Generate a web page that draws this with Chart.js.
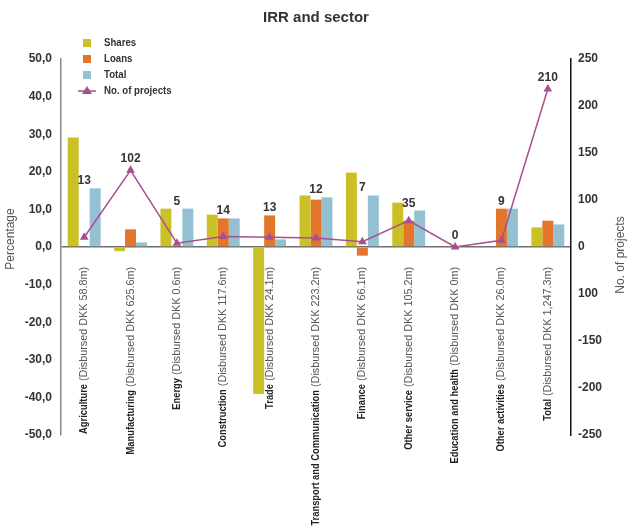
<!DOCTYPE html>
<html>
<head>
<meta charset="utf-8">
<title>IRR and sector</title>
<script src="https://cdn.jsdelivr.net/npm/chart.js@4.4.1/dist/chart.umd.min.js"></script>
<style>
    html, body { margin: 0; padding: 0; background: #fff; }
    #wrap { position: relative; width: 634px; height: 528px; }
</style>
</head>
<body>
<div id="wrap"><canvas id="irr-chart" width="634" height="528"></canvas></div>
<script>
// セクター名と投資額
const sectors = ['Agriculture', 'Manufacturing', 'Energy', 'Construction', 'Trade',
    'Transport and Communication', 'Finance', 'Other service', 'Education and health',
    'Other activities', 'Total'];
const disbursed = ['(Disbursed DKK 58.8m)', '(Disbursed DKK 625.6m)', '(Disbursed DKK 0.6m)',
    '(Disbursed DKK 117.6m)', '(Disbursed DKK 24.1m)', '(Disbursed DKK 223.2m)',
    '(Disbursed DKK 66.1m)', '(Disbursed DKK 105.2m)', '(Disbursed DKK 0m)',
    '(Disbursed DKK 26.0m)', '(Disbursed DKK 1,247.3m)'];

// IRR (%)
const shares = [29.1, -1.1, 10.2, 8.6, -39.1, 13.7, 19.8, 11.8, 0, 0, 5.2];
const loans = [0, 4.7, 0, 7.6, 8.4, 12.6, -2.3, 7.0, 0, 10.2, 7.0];
const total = [15.6, 1.2, 10.2, 7.6, 2.0, 13.2, 13.7, 9.7, 0, 10.2, 6.0];

// プロジェクト数
const projects = [13, 102, 5, 14, 13, 12, 7, 35, 0, 9, 210];

// 右軸の目盛りラベル（下から上）
const rightTickValues = [-250, -187.5, -125, -62.5, 0, 62.5, 125, 187.5, 250];
const rightTickLabels = ['-250', '-200', '-150', '100', '0', '100', '150', '200', '250'];

const COLORS = {
    shares: '#cbc026',
    loans: '#e4762b',
    total: '#93c1d1',
    line: '#a6508f',
    text: '#333333'
};

// 横方向に詰めた文字を描く
function condensedText(ctx, text, x, y, squeeze) {
    ctx.save();
    ctx.translate(x, y);
    ctx.scale(squeeze, 1);
    ctx.fillText(text, 0, 0);
    ctx.restore();
}

// タイトル・凡例・軸タイトル・X軸ラベル・数値ラベルを描画
const decorPlugin = {
    id: 'decor',
    afterDraw(chart) {
        const ctx = chart.ctx;
        const x = chart.scales.x;
        ctx.save();

        // タイトル
        ctx.fillStyle = COLORS.text;
        ctx.font = 'bold 15px "Liberation Sans", Arial, sans-serif';
        ctx.textAlign = 'center';
        ctx.textBaseline = 'middle';
        ctx.fillText('IRR and sector', 316, 18);

        // 凡例
        const legendItems = [
            { label: 'Shares', color: COLORS.shares },
            { label: 'Loans', color: COLORS.loans },
            { label: 'Total', color: COLORS.total },
            { label: 'No. of projects', color: COLORS.line, line: true }
        ];
        ctx.font = 'bold 11.5px "Liberation Sans", Arial, sans-serif';
        ctx.textAlign = 'left';
        legendItems.forEach((item, i) => {
            const ly = 43 + i * 16;
            if (item.line) {
                ctx.strokeStyle = item.color;
                ctx.lineWidth = 1.5;
                ctx.beginPath();
                ctx.moveTo(78, ly);
                ctx.lineTo(96, ly);
                ctx.stroke();
                ctx.fillStyle = item.color;
                ctx.beginPath();
                ctx.moveTo(87, ly - 5);
                ctx.lineTo(92, ly + 3);
                ctx.lineTo(82, ly + 3);
                ctx.closePath();
                ctx.fill();
            } else {
                ctx.fillStyle = item.color;
                ctx.fillRect(83, ly - 4, 8, 8);
            }
            ctx.fillStyle = COLORS.text;
            condensedText(ctx, item.label, 104, ly, 0.84);
        });

        // 軸タイトル
        ctx.fillStyle = '#555';
        ctx.font = '12px "Liberation Sans", Arial, sans-serif';
        ctx.textAlign = 'center';
        ctx.save();
        ctx.translate(11, 239);
        ctx.rotate(-Math.PI / 2);
        ctx.fillText('Percentage', 0, 0);
        ctx.restore();
        ctx.save();
        ctx.translate(621, 255);
        ctx.rotate(-Math.PI / 2);
        ctx.fillText('No. of projects', 0, 0);
        ctx.restore();

        // X軸ラベル（太字のセクター名＋通常の金額）
        const boldFont = 'bold 11px "Liberation Sans", Arial, sans-serif';
        const normFont = '10.8px "Liberation Sans", Arial, sans-serif';
        const zeroY = chart.scales.y.getPixelForValue(0);
        sectors.forEach((name, i) => {
            const cx = x.getPixelForValue(i);
            ctx.save();
            ctx.translate(cx, zeroY + 20);
            ctx.rotate(-Math.PI / 2);
            ctx.textBaseline = 'middle';
            ctx.textAlign = 'right';
            ctx.font = normFont;
            const rest = ' ' + disbursed[i];
            const restW = ctx.measureText(rest).width;
            ctx.fillStyle = '#555';
            ctx.fillText(rest, 0, 0);
            ctx.font = boldFont;
            ctx.fillStyle = '#222';
            condensedText(ctx, name, -restW, 0, 0.85);
            ctx.restore();
        });

        // プロジェクト数のラベル（棒と点の上）
        const y = chart.scales.y;
        const y1 = chart.scales.y1;
        ctx.fillStyle = COLORS.text;
        ctx.font = 'bold 12px "Liberation Sans", Arial, sans-serif';
        ctx.textAlign = 'center';
        ctx.textBaseline = 'alphabetic';
        projects.forEach((n, i) => {
            const top = Math.min(
                y.getPixelForValue(Math.max(loans[i], 0)),
                y.getPixelForValue(Math.max(total[i], 0)),
                y1.getPixelForValue(n) - 4
            );
            ctx.fillText(String(n), x.getPixelForValue(i), top - 4);
        });

        ctx.restore();
    }
};

const ctx = document.getElementById('irr-chart').getContext('2d');

new Chart(ctx, {
    type: 'bar',
    data: {
        labels: sectors,
        datasets: [
            {
                label: 'No. of projects',
                type: 'line',
                data: projects,
                yAxisID: 'y1',
                borderColor: COLORS.line,
                backgroundColor: COLORS.line,
                borderWidth: 1.5,
                pointStyle: 'triangle',
                pointRadius: 5,
                pointBorderWidth: 0,
                tension: 0,
                order: 0
            },
            {
                label: 'Shares',
                data: shares,
                yAxisID: 'y',
                backgroundColor: COLORS.shares,
                barPercentage: 1,
                categoryPercentage: 0.71,
                order: 1
            },
            {
                label: 'Loans',
                data: loans,
                yAxisID: 'y',
                backgroundColor: COLORS.loans,
                barPercentage: 1,
                categoryPercentage: 0.71,
                order: 1
            },
            {
                label: 'Total',
                data: total,
                yAxisID: 'y',
                backgroundColor: COLORS.total,
                barPercentage: 1,
                categoryPercentage: 0.71,
                order: 1
            }
        ]
    },
    options: {
        responsive: false,
        animation: false,
        layout: {
            padding: { top: 59, bottom: 93, left: 0, right: 0 }
        },
        plugins: {
            legend: { display: false },
            title: { display: false },
            tooltip: { enabled: false }
        },
        scales: {
            x: {
                display: false
            },
            y: {
                position: 'left',
                min: -50,
                max: 50,
                afterFit: (scale) => { scale.width = 61; },
                ticks: {
                    stepSize: 10,
                    padding: 9,
                    color: COLORS.text,
                    font: { family: '"Liberation Sans", Arial, sans-serif', size: 12, weight: 'bold' },
                    callback: (v) => v.toFixed(1).replace('.', ',')
                },
                grid: {
                    drawTicks: false,
                    lineWidth: 1.5,
                    color: (c) => (c.tick && c.tick.value === 0 ? '#6f6f6f' : 'rgba(0,0,0,0)')
                },
                border: { color: '#8a8a8a', width: 1.5 }
            },
            y1: {
                position: 'right',
                min: -250,
                max: 250,
                afterFit: (scale) => { scale.width = 63; },
                afterBuildTicks: (scale) => {
                    scale.ticks = rightTickValues.map(v => ({ value: v }));
                },
                ticks: {
                    padding: 7,
                    color: COLORS.text,
                    font: { family: '"Liberation Sans", Arial, sans-serif', size: 12, weight: 'bold' },
                    callback: (v, i) => rightTickLabels[i]
                },
                grid: { display: false, drawTicks: false },
                border: { color: '#111', width: 1.5 }
            }
        }
    },
    plugins: [decorPlugin]
});
</script>
</body>
</html>
